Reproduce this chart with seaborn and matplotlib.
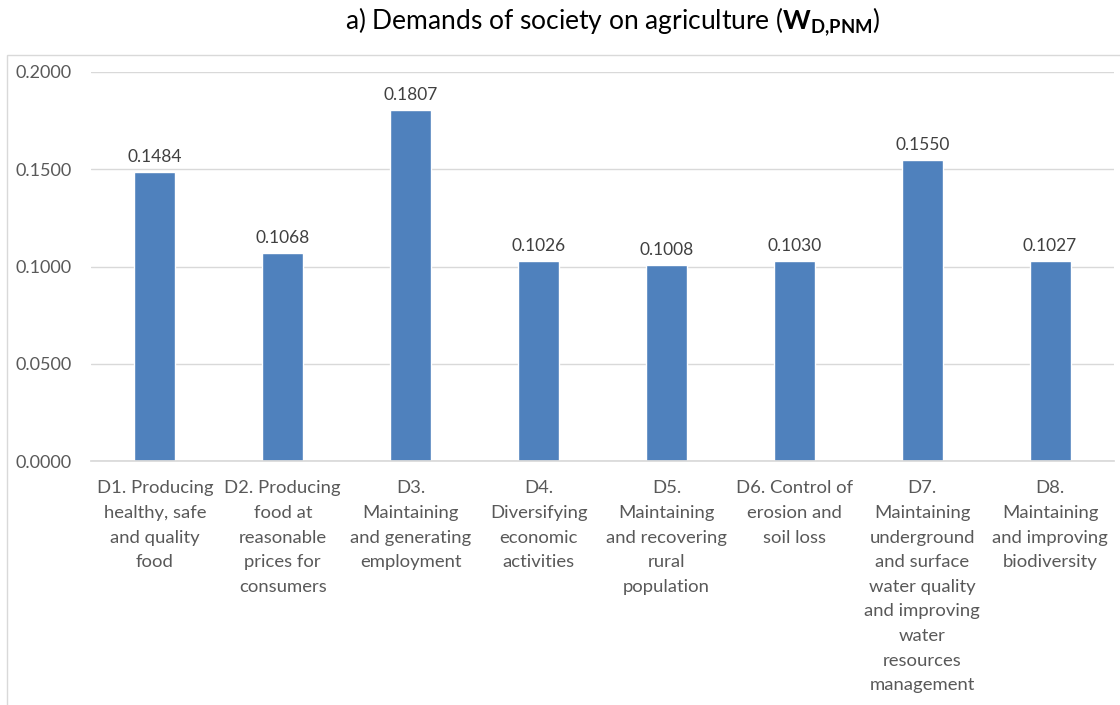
import matplotlib
matplotlib.use("Agg")
import matplotlib.pyplot as plt
import seaborn as sns
import pandas as pd
from matplotlib.patches import Rectangle

categories = [
    "D1. Producing\nhealthy, safe\nand quality\nfood",
    "D2. Producing\nfood at\nreasonable\nprices for\nconsumers",
    "D3.\nMaintaining\nand generating\nemployment",
    "D4.\nDiversifying\neconomic\nactivities",
    "D5.\nMaintaining\nand recovering\nrural\npopulation",
    "D6. Control of\nerosion and\nsoil loss",
    "D7.\nMaintaining\nunderground\nand surface\nwater quality\nand improving\nwater\nresources\nmanagement",
    "D8.\nMaintaining\nand improving\nbiodiversity",
]
values = [0.1484, 0.1068, 0.1807, 0.1026, 0.1008, 0.1030, 0.1550, 0.1027]
yticks = [0.0, 0.05, 0.10, 0.15, 0.20]

sns.set_theme(style="white")
plt.rcParams["font.family"] = ["Lato", "DejaVu Sans"]
plt.rcParams["mathtext.fontset"] = "custom"
plt.rcParams["mathtext.rm"] = "Lato"
plt.rcParams["mathtext.bf"] = "Lato:bold"

df = pd.DataFrame({"cat": categories, "val": values})

fig = plt.figure(figsize=(11.2, 7.05), dpi=100)
W, H = 1120, 705
ax = fig.add_axes([91 / W, 1 - 461 / H, (1114 - 91) / W, (461 - 72) / H])

sns.barplot(data=df, x="cat", y="val", color="#4f81bd", saturation=1, width=0.32, ax=ax)

ax.set_ylim(0, 0.2)
ax.set_yticks(yticks)
ax.set_yticklabels([f"{t:.4f}" for t in yticks], fontsize=13, color="#595959")
ax.tick_params(axis="y", length=0, pad=14)
ax.tick_params(axis="x", length=0, pad=14)
for lbl in ax.get_xticklabels():
    lbl.set_fontsize(13.3)
    lbl.set_color("#595959")
    lbl.set_linespacing(1.66)
    lbl.set_verticalalignment("top")
ax.set_xlabel("")
ax.set_ylabel("")
ax.grid(axis="y", color="#d9d9d9", linewidth=1)
ax.set_axisbelow(True)
for s in ["left", "right", "top"]:
    ax.spines[s].set_visible(False)
ax.spines["bottom"].set_color("#d9d9d9")
ax.set_xlim(-0.5, len(categories) - 0.5)

for i, v in enumerate(values):
    ax.annotate(f"{v:.4f}", (i, v), xytext=(0, 5), textcoords="offset points",
                ha="center", va="bottom", fontsize=12.5, color="#404040")

fig.text(613 / W, 1 - 22 / H,
         r"a) Demands of society on agriculture ($\mathbf{W}_{\mathbf{D{,}PNM}}$)",
         ha="center", va="center", fontsize=19, color="#000000")

fig.patches.append(Rectangle((7 / W, -0.01), 1.2, 1 - 55 / H + 0.01,
                             transform=fig.transFigure, fill=False,
                             edgecolor="#d9d9d9", linewidth=1))

fig.savefig("out.png", dpi=100)
